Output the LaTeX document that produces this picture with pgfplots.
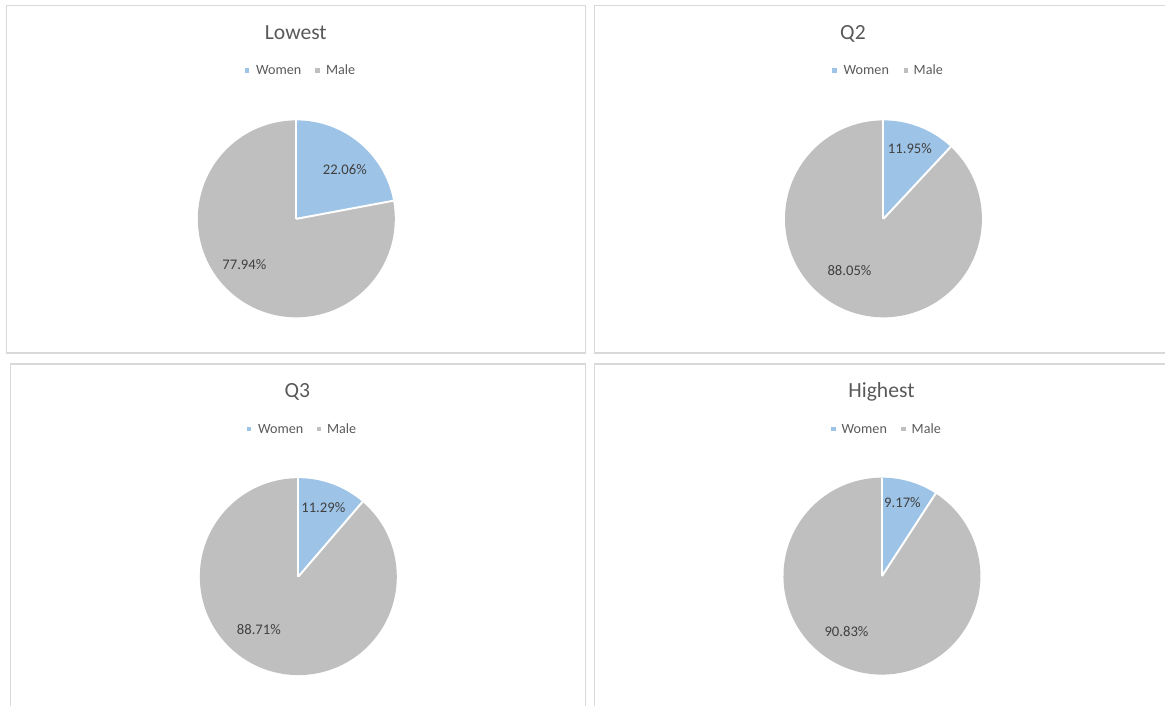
\documentclass[border=0pt]{standalone}
\usepackage{pgfplots}
\pgfplotsset{compat=1.18}
\usepackage{fontspec}
\setmainfont{Carlito}
\definecolor{women}{HTML}{9DC3E6}
\definecolor{male}{HTML}{BFBFBF}
\definecolor{framec}{HTML}{D9D9D9}
\definecolor{titlec}{HTML}{595959}
\definecolor{labelc}{HTML}{404040}

% #1 cx, #2 cy (axis units = px), #3 women %, #4 male %
\newcommand{\piechart}[4]{%
  \fill[women] (axis cs:#1,#2) -- ++(90:73.9pt) arc[start angle=90,end angle={90-3.6*#3},radius=73.9pt] -- cycle;
  \fill[male] (axis cs:#1,#2) -- ++({90-3.6*#3}:73.9pt) arc[start angle={90-3.6*#3},end angle={90-3.6*#3-3.6*#4},radius=73.9pt] -- cycle;
  \draw[white,line width=1.5pt] (axis cs:#1,#2) -- ++(90:73.9pt);
  \draw[white,line width=1.5pt] (axis cs:#1,#2) -- ++({90-3.6*#3}:73.9pt);
}
% legend: #1 women marker x, #2 women text x, #3 male marker x, #4 male text x, #5 marker y, #6 baseline y
\newcommand{\lgd}[6]{%
  \fill[women] (axis cs:#1-2.2,#5-2.2) rectangle (axis cs:#1+2.2,#5+2.2);
  \node[anchor=base west,inner sep=0pt,text=titlec,font=\fontsize{10.6}{12}\selectfont] at (axis cs:#2,#6) {Women};
  \fill[male] (axis cs:#3-2.2,#5-2.2) rectangle (axis cs:#3+2.2,#5+2.2);
  \node[anchor=base west,inner sep=0pt,text=titlec,font=\fontsize{10.6}{12}\selectfont] at (axis cs:#4,#6) {Male};
}
\newcommand{\ttl}[3]{%
  \node[anchor=base,inner sep=0pt,text=titlec,font=\fontsize{16.2}{18}\selectfont] at (axis cs:#1,#2) {#3};
}
\newcommand{\lbl}[3]{%
  \node[anchor=center,inner sep=0pt,text=labelc,font=\fontsize{11}{12}\selectfont] at (axis cs:#1,#2) {#3\%};
}

\begin{document}
\begin{tikzpicture}
\begin{axis}[
  width=874.5pt, height=529.5pt, scale only axis,
  xmin=0, xmax=1166, ymin=0, ymax=706,
  hide axis, clip=false]
\path (axis cs:0,0) rectangle (axis cs:1166,706);
% panel frames
\draw[framec,line width=1.1pt] (axis cs:6.5,353) rectangle (axis cs:586,700.5);
\draw[framec,line width=1.1pt] (axis cs:1166,700.5) -- (axis cs:595,700.5) -- (axis cs:595,353) -- (axis cs:1166,353);
\draw[framec,line width=1.1pt] (axis cs:10.5,0) -- (axis cs:10.5,342) -- (axis cs:586,342) -- (axis cs:586,0);
\draw[framec,line width=1.1pt] (axis cs:595,0) -- (axis cs:595,342) -- (axis cs:1166,342);

% Lowest
\piechart{296.5}{487}{22.06}{77.94}
\ttl{296}{666}{Lowest}
\lgd{247}{256}{317.5}{326}{635.5}{631}
\lbl{345}{536}{22.06}
\lbl{244.5}{441}{77.94}

% Q2
\piechart{884}{487}{11.95}{88.05}
\ttl{853.5}{666}{Q2}
\lgd{835}{844}{906.5}{914}{635.5}{631}
\lbl{910.5}{557}{11.95}
\lbl{850}{435}{88.05}

% Q3
\piechart{298.5}{129}{11.29}{88.71}
\ttl{297.5}{308}{Q3}
\lgd{249}{258}{319}{327}{277}{272}
\lbl{323.5}{198}{11.29}
\lbl{259}{76}{88.71}

% Highest
\piechart{882.5}{129.5}{9.17}{90.83}
\ttl{882}{308}{Highest}
\lgd{834}{842}{904}{912}{277}{272}
\lbl{903}{203}{9.17}
\lbl{847}{74}{90.83}
\end{axis}
\end{tikzpicture}
\end{document}
